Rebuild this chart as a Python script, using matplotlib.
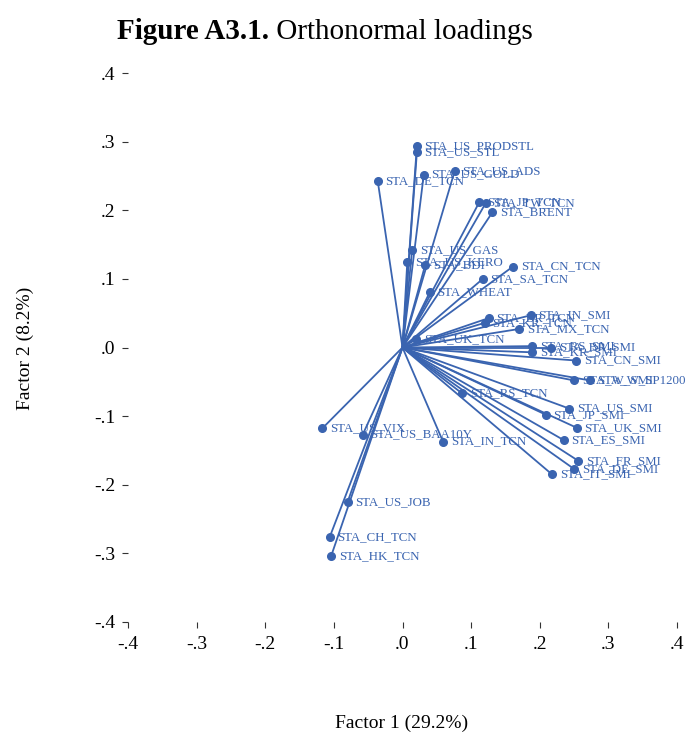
import matplotlib
matplotlib.use('Agg')
import matplotlib.pyplot as plt

# loadings
names = ['STA_US_PRODSTL', 'STA_US_STL', 'STA_DE_TCN', 'STA_US_GOLD', 'STA_US_ADS',
         'STA_JP_TCN', 'STA_TW_TCN', 'STA_BRENT', 'STA_US_GAS', 'STA_US_KERO',
         'STA_BDI', 'STA_CN_TCN', 'STA_SA_TCN', 'STA_WHEAT', 'STA_BR_TCN',
         'STA_KR_TCN', 'STA_IN_SMI', 'STA_MX_TCN', 'STA_UK_TCN', 'STA_RS_SMI',
         'STA_BR_SMI', 'STA_KR_SMI', 'STA_CN_SMI', 'STA_W_SMI', 'STA_W_SP1200',
         'STA_RS_TCN', 'STA_US_SMI', 'STA_JP_SMI', 'STA_UK_SMI', 'STA_ES_SMI',
         'STA_IN_TCN', 'STA_FR_SMI', 'STA_DE_SMI', 'STA_IT_SMI', 'STA_US_VIX',
         'STA_US_BAA10Y', 'STA_US_JOB', 'STA_CH_TCN', 'STA_HK_TCN']
f1 = [0.021, 0.021, -0.036, 0.031, 0.076,
      0.112, 0.121, 0.131, 0.014, 0.007,
      0.033, 0.161, 0.117, 0.040, 0.126,
      0.120, 0.187, 0.170, 0.020, 0.189,
      0.217, 0.189, 0.253, 0.250, 0.273,
      0.087, 0.243, 0.209, 0.254, 0.235,
      0.059, 0.256, 0.250, 0.218, -0.117,
      -0.058, -0.080, -0.106, -0.104]
f2 = [0.294, 0.285, 0.242, 0.252, 0.257,
      0.212, 0.210, 0.197, 0.142, 0.125,
      0.120, 0.118, 0.100, 0.081, 0.043,
      0.036, 0.047, 0.027, 0.012, 0.002,
      0.000, -0.007, -0.019, -0.048, -0.048,
      -0.067, -0.089, -0.098, -0.117, -0.135,
      -0.137, -0.165, -0.177, -0.185, -0.118,
      -0.127, -0.225, -0.276, -0.304]

ticks = [-0.4, -0.3, -0.2, -0.1, 0.0, 0.1, 0.2, 0.3, 0.4]
tick_labels = ['-.4', '-.3', '-.2', '-.1', '.0', '.1', '.2', '.3', '.4']

blue = '#3a64b0'
plt.rcParams['font.family'] = ['Liberation Serif', 'DejaVu Serif']

fig = plt.figure(figsize=(6.87, 7.38), dpi=100)
ax = fig.add_axes([128 / 687, 1 - 622 / 738, 549 / 687, 549 / 738])

for n, x, y in zip(names, f1, f2):
    ax.plot([0, x], [0, y], color=blue, lw=1.3, solid_capstyle='round')
    ax.plot(x, y, 'o', color=blue, ms=5.5)
    ax.annotate(n, (x, y), xytext=(5.5, 0), textcoords='offset points',
                va='center', ha='left', color=blue, fontsize=9.3,
                annotation_clip=False)

ax.set_xlim(-0.4, 0.4)
ax.set_ylim(-0.4, 0.4)
ax.set_xticks(ticks)
ax.set_xticklabels(tick_labels, fontsize=14)
ax.set_yticks(ticks)
ax.set_yticklabels(tick_labels, fontsize=14)
ax.tick_params(axis='both', length=4, width=0.8, color='#333333')
ax.tick_params(axis='x', pad=6)
ax.tick_params(axis='y', pad=5)
for s in ax.spines.values():
    s.set_visible(False)

fig.text(402 / 687, 1 - 723 / 738, 'Factor 1 (29.2%)', ha='center', va='center', fontsize=14)
fig.text(25 / 687, 1 - 348 / 738, 'Factor 2 (8.2%)', ha='center', va='center',
         rotation=90, fontsize=14)

# title: bold part followed by regular part
t1 = fig.text(117 / 687, 1 - 39 / 738, 'Figure A3.1.', fontweight='bold',
              fontsize=21, ha='left', va='baseline')
ax.annotate(' Orthonormal loadings', xy=(1, 0), xycoords=t1, va='bottom', ha='left',
            fontsize=21, annotation_clip=False)

fig.savefig('out.png', dpi=100)
